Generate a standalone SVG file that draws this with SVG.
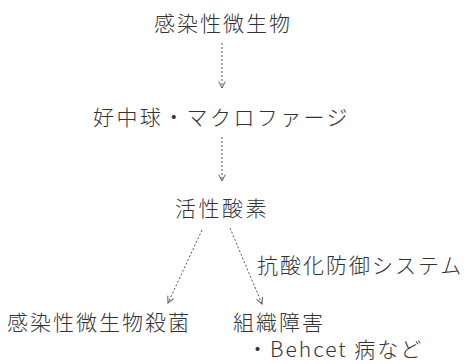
<svg xmlns="http://www.w3.org/2000/svg" width="468" height="364" viewBox="0 0 468 364">
<style>
.t{font-family:"Noto Sans CJK JP","Noto Sans CJK SC",sans-serif;font-size:21px;font-weight:300;fill:#333;letter-spacing:2px}
.c{stroke:#555;stroke-width:1;stroke-dasharray:2 2;fill:none}
</style>
<defs>
<marker id="ah" viewBox="0 0 10 10" refX="9" refY="5" markerWidth="8" markerHeight="8" orient="auto" markerUnits="userSpaceOnUse">
<path d="M1,1 L9,5 L1,9" fill="none" stroke="#555" stroke-width="1.2"/>
</marker>
</defs>
<rect width="468" height="364" fill="#fff"/>
<g id="connectors">
<line class="c" x1="222" y1="43" x2="222" y2="88" marker-end="url(#ah)"/>
<line class="c" x1="222" y1="137" x2="222" y2="181" marker-end="url(#ah)"/>
<line class="c" x1="202" y1="230" x2="168" y2="303" marker-end="url(#ah)"/>
<line class="c" x1="230" y1="228" x2="262" y2="304" marker-end="url(#ah)"/>
</g>
<g id="n1"><text class="t" x="154" y="31">感染性微生物</text></g>
<g id="n2"><text class="t" x="93" y="125" style="letter-spacing:2.4px">好中球・マクロファージ</text></g>
<g id="n3"><text class="t" x="175" y="216" style="letter-spacing:2.5px">活性酸素</text></g>
<g id="lbl"><text class="t" x="257" y="273" style="letter-spacing:2px">抗酸化防御システム</text></g>
<g id="n4"><text class="t" x="7" y="330">感染性微生物殺菌</text></g>
<g id="n5"><text class="t" x="233" y="330">組織障害</text></g>
<g id="n6"><text class="t" x="247" y="357">・Behcet 病など</text></g>
</svg>
